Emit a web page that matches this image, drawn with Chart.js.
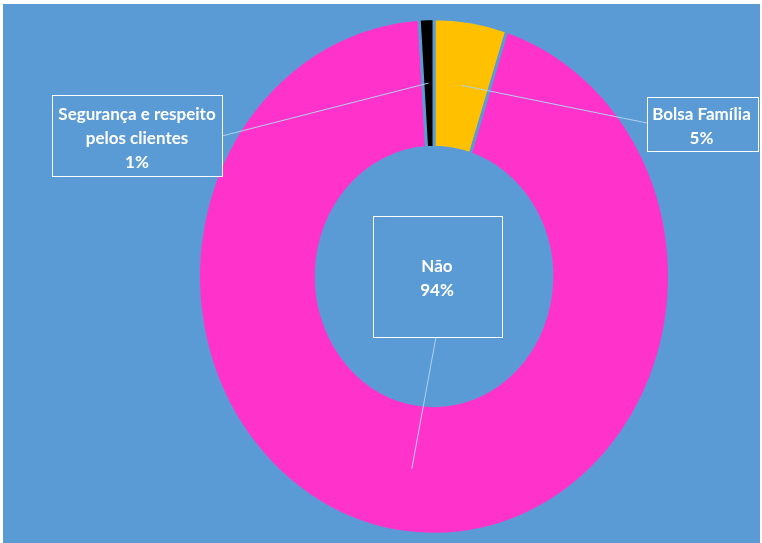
<!DOCTYPE html>
<html>
<head>
<meta charset="utf-8">
<script src="https://cdn.jsdelivr.net/npm/chart.js@4"></script>
<style>
  html, body { margin: 0; padding: 0; background: #fff; }
  #wrap { position: absolute; left: 3px; top: 4px; width: 757px; height: 539px; background: #5b9bd5; }
</style>
</head>
<body>
<div id="wrap"><canvas id="pie"></canvas></div>
<script>
const labels = ["Bolsa Família", "Não", "Segurança e respeito pelos clientes"];
const labelLines = [["Bolsa Família"], ["Não"], ["Segurança e respeito", "pelos clientes"]];
const values = [5, 94, 1];
const colors = ["#ffc000", "#ff33cc", "#000000"];

const bg = "#5b9bd5";
const stretch = 1.0955; // the ring is a bit taller than wide

// callout boxes: rect, where the leader line meets it, first text baseline
const callouts = [
  { x: 644, y: 93, w: 111, h: 54, ax: 644, ay: 119, tx: 698.5, ty: 115.5 },
  { x: 370, y: 212, w: 129, h: 121, ax: 433, ay: 333, tx: 434, ty: 267.5 },
  { x: 49, y: 91, w: 170, h: 81, ax: 219, ay: 132, tx: 134, ty: 115.5 }
];

const ellipse = {
  id: "ellipse",
  beforeDatasetsDraw(chart) {
    const a = chart.chartArea;
    const cx = (a.left + a.right) / 2, cy = (a.top + a.bottom) / 2;
    const ctx = chart.ctx;
    ctx.save();
    ctx.translate(cx, cy);
    ctx.scale(1, stretch);
    ctx.translate(-cx, -cy);
  },
  afterDatasetsDraw(chart) {
    chart.ctx.restore();
  }
};

const calloutPlugin = {
  id: "callouts",
  afterDraw(chart) {
    const ctx = chart.ctx;
    const a = chart.chartArea;
    const cy = (a.top + a.bottom) / 2;
    const arcs = chart.getDatasetMeta(0).data;
    ctx.save();
    callouts.forEach((c, i) => {
      const p = arcs[i].getCenterPoint();
      const py = cy + (p.y - cy) * stretch;
      ctx.strokeStyle = "#b0d0ee";
      ctx.lineWidth = 1;
      ctx.beginPath();
      ctx.moveTo(p.x, py);
      ctx.lineTo(c.ax, c.ay);
      ctx.stroke();

      ctx.fillStyle = bg;
      ctx.fillRect(c.x, c.y, c.w, c.h);
      ctx.strokeStyle = "#ffffff";
      ctx.strokeRect(c.x + 0.5, c.y + 0.5, c.w, c.h);

      ctx.fillStyle = "#ffffff";
      ctx.font = "bold 17px Lato";
      ctx.textAlign = "center";
      ctx.textBaseline = "alphabetic";
      const lines = labelLines[i].concat([values[i] + "%"]);
      lines.forEach((t, k) => ctx.fillText(t, c.tx, c.ty + k * 24));
    });
    ctx.restore();
  }
};

new Chart(document.getElementById("pie"), {
  type: "doughnut",
  data: {
    labels: labels,
    datasets: [{
      data: values,
      backgroundColor: colors,
      borderColor: bg,
      borderWidth: 3,
      clip: false
    }]
  },
  options: {
    responsive: true,
    maintainAspectRatio: false,
    animation: false,
    events: [],
    cutout: "50%",
    layout: { padding: { left: 194, right: 89, top: 35.5, bottom: 29.5 } },
    plugins: {
      legend: { display: false },
      tooltip: { enabled: false }
    }
  },
  plugins: [ellipse, calloutPlugin]
});
</script>
</body>
</html>
